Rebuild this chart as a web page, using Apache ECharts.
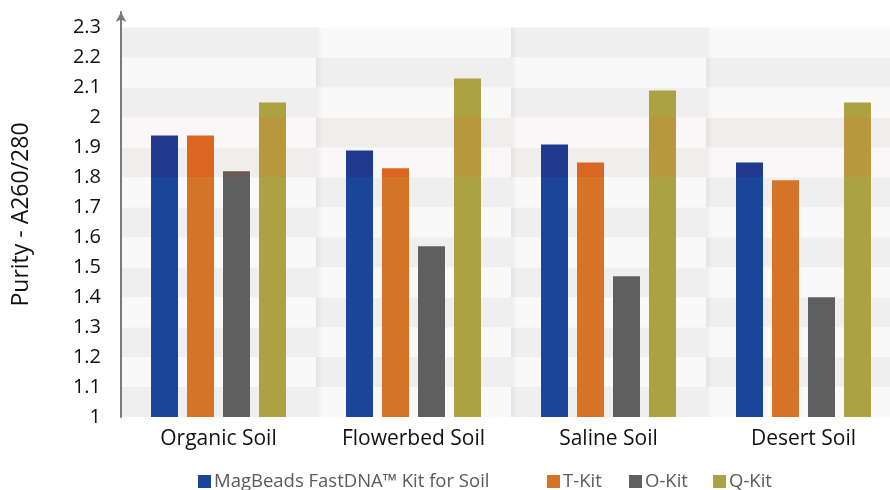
<!DOCTYPE html>
<html><head><meta charset="utf-8">
<script src="https://cdn.jsdelivr.net/npm/echarts@6/dist/echarts.min.js"></script>
<style>html,body{margin:0;padding:0;background:#fff}#c{width:890px;height:490px}</style>
</head><body><div id="c"></div>
<script>
const categories = ['Organic Soil', 'Flowerbed Soil', 'Saline Soil', 'Desert Soil'];
const seriesNames = ['MagBeads FastDNA™ Kit for Soil', 'T-Kit', 'O-Kit', 'Q-Kit'];
const magBeads = [1.94, 1.89, 1.91, 1.85];
const tKit = [1.94, 1.83, 1.85, 1.79];
const oKit = [1.82, 1.57, 1.47, 1.40];
const qKit = [2.05, 2.13, 2.09, 2.05];
const yTicks = [1.0, 1.1, 1.2, 1.3, 1.4, 1.5, 1.6, 1.7, 1.8, 1.9, 2.0, 2.1, 2.2, 2.3];
const tintBand = [1.8, 2.0];

const FONT = 'Open Sans';
const baseColors = ['#1a4599', '#d57327', '#5f5f5f', '#aca143'];
const tintColors = ['#1f3a8f', '#db6622', '#6a5a58', '#b8983d'];
const values = [magBeads, tKit, oKit, qKit];

// checkerboard background cells
const cells = [];
categories.forEach((c, i) => {
  for (let j = 0; j < yTicks.length - 1; j++) {
    const lo = yTicks[j], hi = yTicks[j + 1];
    const gray = (i + j) % 2 === 0;
    const tinted = lo >= tintBand[0] - 1e-9 && hi <= tintBand[1] + 1e-9;
    cells.push([i, lo, hi, gray ? 1 : 0, tinted ? 1 : 0]);
  }
});

const chart = echarts.init(document.getElementById('c'), null, {renderer: 'canvas'});

const legendLefts = [198, 547, 629, 713];

function buildOption(colorFns) {
  return {
    animation: false,
    grid: {left: 121, width: 780, top: 12, bottom: 73, containLabel: false, outerBoundsMode: 'none'},
    xAxis: {
      type: 'category', data: categories,
      axisLine: {show: false}, axisTick: {show: false},
      axisLabel: {color: '#111', fontFamily: FONT, fontSize: 21, margin: 12},
      splitLine: {show: false}
    },
    yAxis: {
      type: 'value', min: 1, max: 2.352, interval: 0.1,
      name: 'Purity - A260/280', nameLocation: 'middle', nameGap: 88,
      nameTextStyle: {color: '#111', fontFamily: FONT, fontSize: 23},
      axisLine: {show: true, lineStyle: {color: '#7a7a7a', width: 2}, symbol: ['none', 'arrow'], symbolSize: [8, 10]},
      axisTick: {show: false},
      splitLine: {show: false},
      axisLabel: {
        color: '#111', fontFamily: FONT, fontSize: 20, margin: 20,
        showMaxLabel: false,
        formatter: v => {
          const r = Math.round(v * 10) / 10;
          if (Math.abs(r - v) > 1e-6 || r > yTicks[yTicks.length - 1] + 1e-9) return '';
          return String(r);
        }
      }
    },
    legend: seriesNames.map((n, k) => ({
      data: [{name: n, itemStyle: {color: baseColors[k]}}],
      left: legendLefts[k], top: 472, padding: 0,
      icon: 'rect', itemWidth: 13, itemHeight: 13, itemGap: 4,
      textStyle: {color: '#5a5a5a', fontFamily: FONT, fontSize: 18.5, padding: [0, 0, 0, -2]},
      selectedMode: false
    })),
    series: [
      {
        type: 'custom', name: 'bg', silent: true, z: 0,
        data: cells,
        renderItem: (params, api) => {
          const i = api.value(0);
          const top = api.coord([i, api.value(2)]);
          const bot = api.coord([i, api.value(1)]);
          const w = api.size([1, 0])[0];
          const gray = api.value(3) === 1, tinted = api.value(4) === 1;
          let fill = gray ? '#efefef' : '#f9f9f9';
          if (tinted) fill = gray ? '#f0eded' : '#f9f7f7';
          const x0 = top[0] - w / 2, h = bot[1] - top[1];
          const children = [{
            type: 'rect',
            shape: {x: x0, y: top[1], width: w, height: h},
            style: {fill: fill}
          }];
          if (i > 0) {
            children.push({
              type: 'rect',
              shape: {x: x0, y: top[1], width: 6, height: h},
              style: {fill: {type: 'linear', x: 0, y: 0, x2: 1, y2: 0, colorStops: [
                {offset: 0, color: 'rgba(0,0,0,0.05)'}, {offset: 1, color: 'rgba(0,0,0,0)'}
              ]}}
            });
          }
          return {type: 'group', children: children};
        }
      }
    ].concat(seriesNames.map((n, k) => ({
      type: 'bar', name: n, data: values[k],
      barWidth: 27, barGap: '33.3%',
      z: 2,
      itemStyle: {color: colorFns ? colorFns(k) : baseColors[k]},
      emphasis: {disabled: true}
    })))
  };
}

chart.setOption(buildOption(null));
const H = chart.getHeight();
const yHi = chart.convertToPixel({yAxisIndex: 0}, tintBand[1]);
const yLo = chart.convertToPixel({yAxisIndex: 0}, tintBand[0]);
const o1 = yHi / H, o2 = yLo / H;
chart.setOption(buildOption(k => ({
  type: 'linear', x: 0, y: 0, x2: 0, y2: H, global: true,
  colorStops: [
    {offset: 0, color: baseColors[k]},
    {offset: o1, color: baseColors[k]},
    {offset: o1, color: tintColors[k]},
    {offset: o2, color: tintColors[k]},
    {offset: o2, color: baseColors[k]},
    {offset: 1, color: baseColors[k]}
  ]
})), true);
</script>
</body></html>
